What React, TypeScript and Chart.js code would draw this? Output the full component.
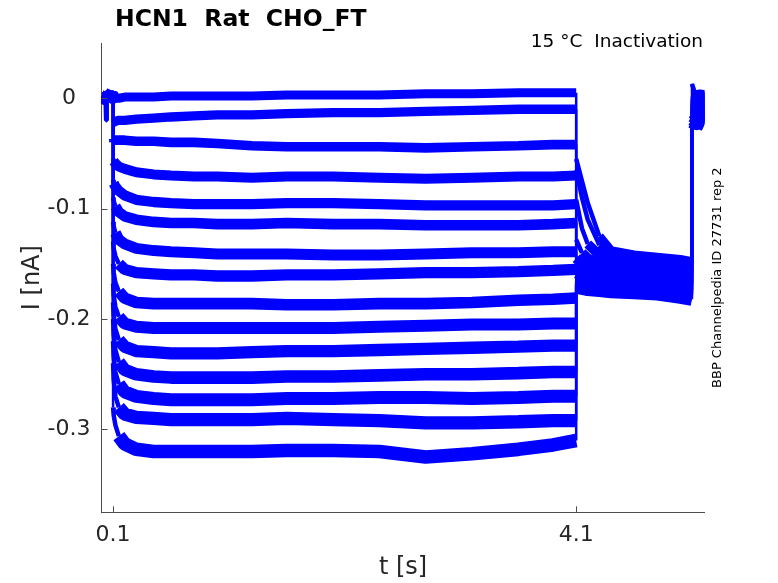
import { useEffect, useRef } from 'react';
import { Chart, registerables } from 'chart.js';

Chart.register(...registerables);

// ---- data (time in s, current in nA) ----
const TIME = [
  0, 0.035, 0.04, 0.045, 0.085, 0.1,
  0.1, 0.105, 0.12, 0.15, 0.2, 0.3, 0.45, 0.6, 0.8, 1.0, 1.3, 1.6, 2.0, 2.4, 2.8, 3.2, 3.6, 3.9, 4.1,
  4.1, 4.15, 4.2, 4.3, 4.4, 4.6, 4.8, 5.0, 5.1,
  5.1, 5.13, 5.17, 5.21,
];

const TRACE_1 = [
  0.001, 0.001, -0.02, 0.0, 0.007, 0.0,
  -0.002, -0.001, 0.0, 0.0, 0.001, 0.001, 0.001, 0.002, 0.002, 0.002, 0.002, 0.003, 0.003, 0.003, 0.004, 0.004, 0.005, 0.005, 0.005,
  -0.055, -0.075, -0.095, -0.125, -0.138, -0.142, -0.144, -0.146, -0.148,
  0.013, 0.003, 0.004, 0.003,
];
const TRACE_2 = [
  0.001, 0.0, 0.002, 0.0, 0.003, 0.0,
  -0.022, -0.022, -0.021, -0.02, -0.02, -0.019, -0.018, -0.017, -0.016, -0.015, -0.015, -0.014, -0.013, -0.013, -0.012, -0.011, -0.01, -0.01, -0.01,
  -0.065, -0.09, -0.11, -0.133, -0.141, -0.145, -0.146, -0.148, -0.149,
  0.002, 0.001, 0.002, 0.001,
];
const TRACE_3 = [
  0.001, 0.0, 0.002, 0.0, 0.003, 0.0,
  -0.037, -0.038, -0.038, -0.038, -0.038, -0.039, -0.039, -0.04, -0.04, -0.041, -0.043, -0.044, -0.044, -0.044, -0.045, -0.044, -0.043, -0.042, -0.042,
  -0.092, -0.118, -0.132, -0.142, -0.146, -0.148, -0.149, -0.151, -0.152,
  0.0, -0.001, 0.0, -0.001,
];
const TRACE_4 = [
  0.001, 0.0, 0.002, 0.0, 0.003, 0.0,
  -0.055, -0.057, -0.059, -0.062, -0.064, -0.067, -0.069, -0.07, -0.071, -0.071, -0.072, -0.071, -0.071, -0.072, -0.073, -0.072, -0.071, -0.071, -0.07,
  -0.128, -0.14, -0.145, -0.15, -0.151, -0.152, -0.153, -0.154, -0.155,
  -0.002, -0.003, -0.002, -0.003,
];
const TRACE_5 = [
  0.001, 0.0, 0.002, 0.0, 0.003, 0.0,
  -0.074, -0.077, -0.08, -0.084, -0.088, -0.092, -0.094, -0.095, -0.096, -0.096, -0.096, -0.095, -0.095, -0.096, -0.097, -0.097, -0.097, -0.097, -0.096,
  -0.145, -0.15, -0.153, -0.155, -0.156, -0.157, -0.158, -0.159, -0.16,
  -0.004, -0.005, -0.004, -0.005,
];
const TRACE_6 = [
  0.001, 0.0, 0.002, 0.0, 0.003, 0.0,
  -0.09, -0.093, -0.098, -0.103, -0.107, -0.11, -0.112, -0.113, -0.113, -0.114, -0.114, -0.113, -0.114, -0.114, -0.115, -0.115, -0.115, -0.114, -0.113,
  -0.15, -0.155, -0.157, -0.158, -0.159, -0.16, -0.16, -0.161, -0.162,
  -0.006, -0.007, -0.006, -0.007,
];
const TRACE_7 = [
  0.001, 0.0, 0.002, 0.0, 0.003, 0.0,
  -0.112, -0.116, -0.122, -0.128, -0.132, -0.136, -0.138, -0.139, -0.14, -0.141, -0.141, -0.141, -0.142, -0.142, -0.141, -0.14, -0.14, -0.139, -0.139,
  -0.155, -0.158, -0.16, -0.161, -0.162, -0.162, -0.163, -0.164, -0.165,
  -0.008, -0.009, -0.008, -0.009,
];
const TRACE_8 = [
  0.001, 0.0, 0.002, 0.0, 0.003, 0.0,
  -0.13, -0.136, -0.143, -0.15, -0.155, -0.158, -0.159, -0.16, -0.16, -0.161, -0.161, -0.16, -0.16, -0.159, -0.158, -0.158, -0.157, -0.156, -0.155,
  -0.158, -0.16, -0.162, -0.163, -0.164, -0.164, -0.165, -0.166, -0.167,
  -0.01, -0.011, -0.01, -0.011,
];
const TRACE_9 = [
  0.001, 0.0, 0.002, 0.0, 0.003, 0.0,
  -0.15, -0.158, -0.167, -0.175, -0.181, -0.185, -0.186, -0.186, -0.186, -0.186, -0.186, -0.187, -0.187, -0.186, -0.186, -0.185, -0.183, -0.182, -0.181,
  -0.162, -0.163, -0.164, -0.165, -0.165, -0.166, -0.167, -0.168, -0.168,
  -0.012, -0.013, -0.012, -0.013,
];
const TRACE_10 = [
  0.001, 0.0, 0.002, 0.0, 0.003, 0.0,
  -0.168, -0.178, -0.189, -0.198, -0.204, -0.207, -0.208, -0.208, -0.208, -0.208, -0.208, -0.208, -0.208, -0.207, -0.206, -0.205, -0.205, -0.204, -0.204,
  -0.165, -0.166, -0.167, -0.167, -0.168, -0.168, -0.169, -0.17, -0.17,
  -0.013, -0.015, -0.014, -0.015,
];
const TRACE_11 = [
  0.001, 0.0, 0.002, 0.0, 0.003, 0.0,
  -0.185, -0.197, -0.209, -0.219, -0.225, -0.229, -0.23, -0.231, -0.231, -0.231, -0.23, -0.229, -0.229, -0.228, -0.227, -0.226, -0.225, -0.224, -0.224,
  -0.167, -0.168, -0.169, -0.17, -0.17, -0.17, -0.171, -0.172, -0.173,
  -0.015, -0.016, -0.016, -0.017,
];
const TRACE_12 = [
  0.001, 0.0, 0.002, 0.0, 0.003, 0.0,
  -0.2, -0.214, -0.228, -0.239, -0.246, -0.25, -0.252, -0.253, -0.253, -0.253, -0.253, -0.252, -0.252, -0.251, -0.25, -0.25, -0.249, -0.248, -0.248,
  -0.168, -0.169, -0.17, -0.171, -0.171, -0.171, -0.172, -0.173, -0.174,
  -0.016, -0.018, -0.017, -0.018,
];
const TRACE_13 = [
  0.001, 0.0, 0.002, 0.0, 0.003, 0.0,
  -0.22, -0.234, -0.248, -0.259, -0.266, -0.27, -0.272, -0.273, -0.273, -0.273, -0.273, -0.272, -0.272, -0.271, -0.271, -0.272, -0.271, -0.27, -0.27,
  -0.169, -0.17, -0.171, -0.172, -0.172, -0.172, -0.173, -0.175, -0.176,
  -0.018, -0.019, -0.019, -0.02,
];
const TRACE_14 = [
  0.001, 0.0, 0.002, 0.0, 0.003, 0.0,
  -0.24, -0.255, -0.27, -0.28, -0.286, -0.289, -0.29, -0.291, -0.291, -0.291, -0.291, -0.29, -0.291, -0.292, -0.294, -0.294, -0.293, -0.292, -0.292,
  -0.17, -0.171, -0.172, -0.173, -0.173, -0.174, -0.175, -0.177, -0.178,
  -0.019, -0.021, -0.02, -0.022,
];
const TRACE_15 = [
  0.001, 0.0, 0.002, 0.0, 0.003, 0.0,
  -0.28, -0.287, -0.296, -0.306, -0.313, -0.318, -0.32, -0.32, -0.32, -0.32, -0.32, -0.319, -0.319, -0.32, -0.325, -0.322, -0.318, -0.314, -0.31,
  -0.171, -0.172, -0.173, -0.174, -0.175, -0.176, -0.177, -0.18, -0.182,
  -0.021, -0.023, -0.022, -0.024,
];

const TRACES = [
  TRACE_1, TRACE_2, TRACE_3, TRACE_4, TRACE_5, TRACE_6, TRACE_7, TRACE_8,
  TRACE_9, TRACE_10, TRACE_11, TRACE_12, TRACE_13, TRACE_14, TRACE_15,
];

const X_TICKS = [0.1, 4.1];
const X_TICK_LABELS = ['0.1', '4.1'];
const Y_TICKS = [-0.3, -0.2, -0.1, 0];
const Y_TICK_LABELS = ['-0.3', '-0.2', '-0.1', '0'];

const TITLE = 'HCN1  Rat  CHO_FT';
const SUBTITLE = '15 \u00B0C  Inactivation';
const SIDE_NOTE = 'BBP Channelpedia ID 27731 rep 2';
const X_LABEL = 't [s]';
const Y_LABEL = 'I [nA]';

// ---- styles ----
const FONT = '"DejaVu Sans", "Liberation Sans", sans-serif';
const TRACE_COLOR = '#0000ff';
const AXIS_COLOR = '#4d4d4d';
const TEXT_COLOR = '#262626';
// noise band thickness per trace (px), thicker for the noisier lower traces
const BAND_WIDTHS = [9, 9.3, 9.6, 10, 10.3, 10.6, 11, 11.3, 11.6, 12, 12.3, 12.6, 13, 13.3, 13.6];
const STEEP_W = 4.5;
const JUMP_W = 2.5;

const decorPlugin = {
  id: 'decor',
  afterDraw(chart: any) {
    const { ctx, chartArea, scales } = chart;
    const xs = scales.x;
    const ys = scales.y;
    ctx.save();
    // inward tick marks
    ctx.strokeStyle = AXIS_COLOR;
    ctx.lineWidth = 1;
    ctx.beginPath();
    for (const v of Y_TICKS) {
      const py = Math.round(ys.getPixelForValue(v)) + 0.5;
      ctx.moveTo(chartArea.left, py);
      ctx.lineTo(chartArea.left + 6, py);
    }
    for (const v of X_TICKS) {
      const px = Math.round(xs.getPixelForValue(v)) + 0.5;
      ctx.moveTo(px, chartArea.bottom);
      ctx.lineTo(px, chartArea.bottom - 6);
    }
    ctx.stroke();

    // title
    ctx.fillStyle = '#000';
    ctx.textBaseline = 'alphabetic';
    ctx.textAlign = 'left';
    ctx.font = `bold 23.5px ${FONT}`;
    ctx.fillText(TITLE, 115, 26);

    // subtitle
    ctx.textAlign = 'right';
    ctx.font = `18.5px ${FONT}`;
    ctx.fillText(SUBTITLE, 703, 47);

    // side note
    ctx.save();
    ctx.translate(721, (chartArea.top + chartArea.bottom) / 2);
    ctx.rotate(-Math.PI / 2);
    ctx.textAlign = 'center';
    ctx.font = `13px ${FONT}`;
    ctx.fillText(SIDE_NOTE, 0, 0);
    ctx.restore();

    // axis titles
    ctx.fillStyle = TEXT_COLOR;
    ctx.font = `24px ${FONT}`;
    ctx.textAlign = 'center';
    ctx.fillText(X_LABEL, (chartArea.left + chartArea.right) / 2, 574);
    ctx.save();
    ctx.translate(39, (chartArea.top + chartArea.bottom) / 2);
    ctx.rotate(-Math.PI / 2);
    ctx.fillText(Y_LABEL, 0, 0);
    ctx.restore();

    ctx.restore();
  },
};

export default function App() {
  const canvasRef = useRef<HTMLCanvasElement | null>(null);

  useEffect(() => {
    const canvas = canvasRef.current;
    if (!canvas) return;
    Chart.defaults.font.family = FONT;

    const datasets = TRACES.map((trace, i) => {
      const bandW = BAND_WIDTHS[i];
      return {
        label: `trace ${i + 1}`,
        data: TIME.map((t, j) => ({ x: t, y: trace[j] })),
        borderColor: TRACE_COLOR,
        backgroundColor: TRACE_COLOR,
        borderWidth: bandW,
        pointRadius: 0,
        tension: 0,
        fill: false,
        borderJoinStyle: 'bevel' as const,
        borderCapStyle: 'butt' as const,
        segment: {
          borderWidth: (c: any) => {
            const dx = Math.abs(c.p1.x - c.p0.x);
            const dy = Math.abs(c.p1.y - c.p0.y);
            if (dx < 0.5) return JUMP_W;
            return dy > 2 * dx ? STEEP_W : bandW;
          },
        },
      };
    });

    const chart = new Chart(canvas, {
      type: 'line',
      data: { datasets },
      options: {
        animation: false,
        responsive: false,
        parsing: false as any,
        layout: { padding: { left: 0, right: 73.3, top: 43, bottom: 0 } },
        plugins: {
          legend: { display: false },
          tooltip: { enabled: false },
          title: { display: false },
        },
        scales: {
          x: {
            type: 'linear',
            min: 0,
            max: 5.21,
            grid: { display: false, drawTicks: false },
            border: { display: true, color: AXIS_COLOR, width: 1 },
            afterBuildTicks: (axis: any) => {
              axis.ticks = X_TICKS.map((v) => ({ value: v }));
            },
            afterFit: (scale: any) => {
              scale.height = 70.7;
            },
            ticks: {
              autoSkip: false,
              maxRotation: 0,
              padding: 10,
              color: TEXT_COLOR,
              font: { size: 22, family: FONT },
              callback: (_v: any, i: number) => X_TICK_LABELS[i],
            },
          },
          y: {
            type: 'linear',
            min: -0.375,
            max: 0.05,
            grid: { display: false, drawTicks: false },
            border: { display: true, color: AXIS_COLOR, width: 1 },
            afterBuildTicks: (axis: any) => {
              axis.ticks = Y_TICKS.map((v) => ({ value: v }));
            },
            afterFit: (scale: any) => {
              scale.width = 101.5;
            },
            ticks: {
              autoSkip: false,
              padding: 11,
              crossAlign: 'center',
              color: TEXT_COLOR,
              font: { size: 22, family: FONT },
              callback: (_v: any, i: number) => Y_TICK_LABELS[i],
            },
          },
        },
      },
      plugins: [decorPlugin],
    });

    return () => {
      chart.destroy();
    };
  }, []);

  return (
    <div style={{ position: 'fixed', left: 0, top: 0, width: 778, height: 583, background: '#fff' }}>
      <canvas ref={canvasRef} width={778} height={583} style={{ width: 778, height: 583, display: 'block' }} />
    </div>
  );
}
